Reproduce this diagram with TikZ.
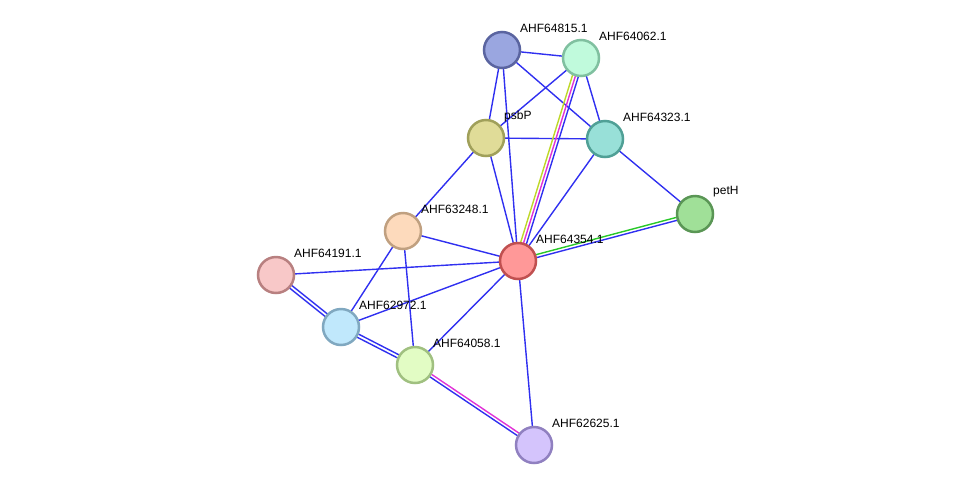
\documentclass[tikz,border=0pt]{standalone}
\usepackage{fontspec}
\setmainfont{Liberation Sans}
\usetikzlibrary{calc,backgrounds}

\definecolor{ecblue}{RGB}{48,48,240}
\definecolor{ecgreen}{RGB}{40,200,40}
\definecolor{ecyellow}{RGB}{190,215,40}
\definecolor{ecpink}{RGB}{225,50,215}

\tikzset{
  prot/.style={circle, minimum size=36pt, inner sep=0pt, line width=2.5pt},
  plabel/.style={anchor=west, inner sep=0pt, font=\fontsize{12}{14}\selectfont},
  edge/.style={line width=1.4pt}
}
% edge shifted sideways by #3
\newcommand{\offedge}[4]{\draw[edge,#4] ($(#1.center)!#3!90:(#2.center)$) -- ($(#2.center)!#3!-90:(#1.center)$);}

\begin{document}
\begin{tikzpicture}[x=1pt,y=-1pt]
\useasboundingbox (0,0) rectangle (975,491);

% proteins
\node[prot, draw={rgb,255:red,90;green,100;blue,160}, fill={rgb,255:red,154;green,166;blue,224}] (n64815) at (502,50) {};
\node[prot, draw={rgb,255:red,128;green,192;blue,160}, fill={rgb,255:red,192;green,250;blue,220}] (n64062) at (581,58) {};
\node[prot, draw={rgb,255:red,160;green,160;blue,90}, fill={rgb,255:red,224;green,220;blue,152}] (psbP) at (486,138) {};
\node[prot, draw={rgb,255:red,80;green,160;blue,150}, fill={rgb,255:red,152;green,224;blue,216}] (n64323) at (605,139) {};
\node[prot, draw={rgb,255:red,90;green,150;blue,85}, fill={rgb,255:red,160;green,224;blue,152}] (petH) at (695,214) {};
\node[prot, draw={rgb,255:red,192;green,160;blue,128}, fill={rgb,255:red,253;green,218;blue,188}] (n63248) at (403,231) {};
\node[prot, draw={rgb,255:red,192;green,80;blue,80}, fill={rgb,255:red,255;green,152;blue,152}] (n64354) at (518,261) {};
\node[prot, draw={rgb,255:red,184;green,128;blue,128}, fill={rgb,255:red,248;green,200;blue,200}] (n64191) at (276,275) {};
\node[prot, draw={rgb,255:red,128;green,168;blue,192}, fill={rgb,255:red,192;green,232;blue,252}] (n62972) at (341,327) {};
\node[prot, draw={rgb,255:red,160;green,192;blue,128}, fill={rgb,255:red,226;green,252;blue,196}] (n64058) at (415,365) {};
\node[prot, draw={rgb,255:red,144;green,128;blue,192}, fill={rgb,255:red,212;green,196;blue,252}] (n62625) at (534,445) {};

% labels
\node[plabel] (l64815) at ($(n64815.center)+(18,-22)$) {AHF64815.1};
\node[plabel] (l64062) at ($(n64062.center)+(18,-22)$) {AHF64062.1};
\node[plabel] (lpsbP) at ($(psbP.center)+(18,-22)$) {psbP};
\node[plabel] (l64323) at ($(n64323.center)+(18,-22)$) {AHF64323.1};
\node[plabel] (lpetH) at ($(petH.center)+(18,-22)$) {petH};
\node[plabel] (l63248) at ($(n63248.center)+(18,-22)$) {AHF63248.1};
\node[plabel] (l64354) at ($(n64354.center)+(18,-22)$) {AHF64354.1};
\node[plabel] (l64191) at ($(n64191.center)+(18,-22)$) {AHF64191.1};
\node[plabel] (l62972) at ($(n62972.center)+(18,-22)$) {AHF62972.1};
\node[plabel] (l64058) at ($(n64058.center)+(18,-22)$) {AHF64058.1};
\node[plabel] (l62625) at ($(n62625.center)+(18,-22)$) {AHF62625.1};

% interactions
\begin{scope}[on background layer]
  \foreach \a/\b in {n64815/n64062, n64815/psbP, n64815/n64354, n64815/n64323,
                     n64062/psbP, n64062/n64323, psbP/n64323, psbP/n63248,
                     psbP/n64354, n64323/n64354, n64323/petH, n63248/n64354,
                     n63248/n62972, n63248/n64058, n64191/n64354, n62972/n64354,
                     n64058/n64354, n64354/n62625}
    \draw[edge, ecblue] (\a.center) -- (\b.center);
  % double and triple lines
  \offedge{n64062}{n64354}{-3pt}{ecyellow}
  \offedge{n64062}{n64354}{0pt}{ecpink}
  \offedge{n64062}{n64354}{3pt}{ecblue}
  \offedge{n64354}{petH}{1.5pt}{ecgreen}
  \offedge{n64354}{petH}{-1.5pt}{ecblue}
  \offedge{n64058}{n62625}{1.5pt}{ecpink}
  \offedge{n64058}{n62625}{-1.5pt}{ecblue}
  \offedge{n64191}{n62972}{1.7pt}{ecblue}
  \offedge{n64191}{n62972}{-1.7pt}{ecblue}
  \offedge{n62972}{n64058}{1.7pt}{ecblue}
  \offedge{n62972}{n64058}{-1.7pt}{ecblue}
\end{scope}
\end{tikzpicture}
\end{document}
